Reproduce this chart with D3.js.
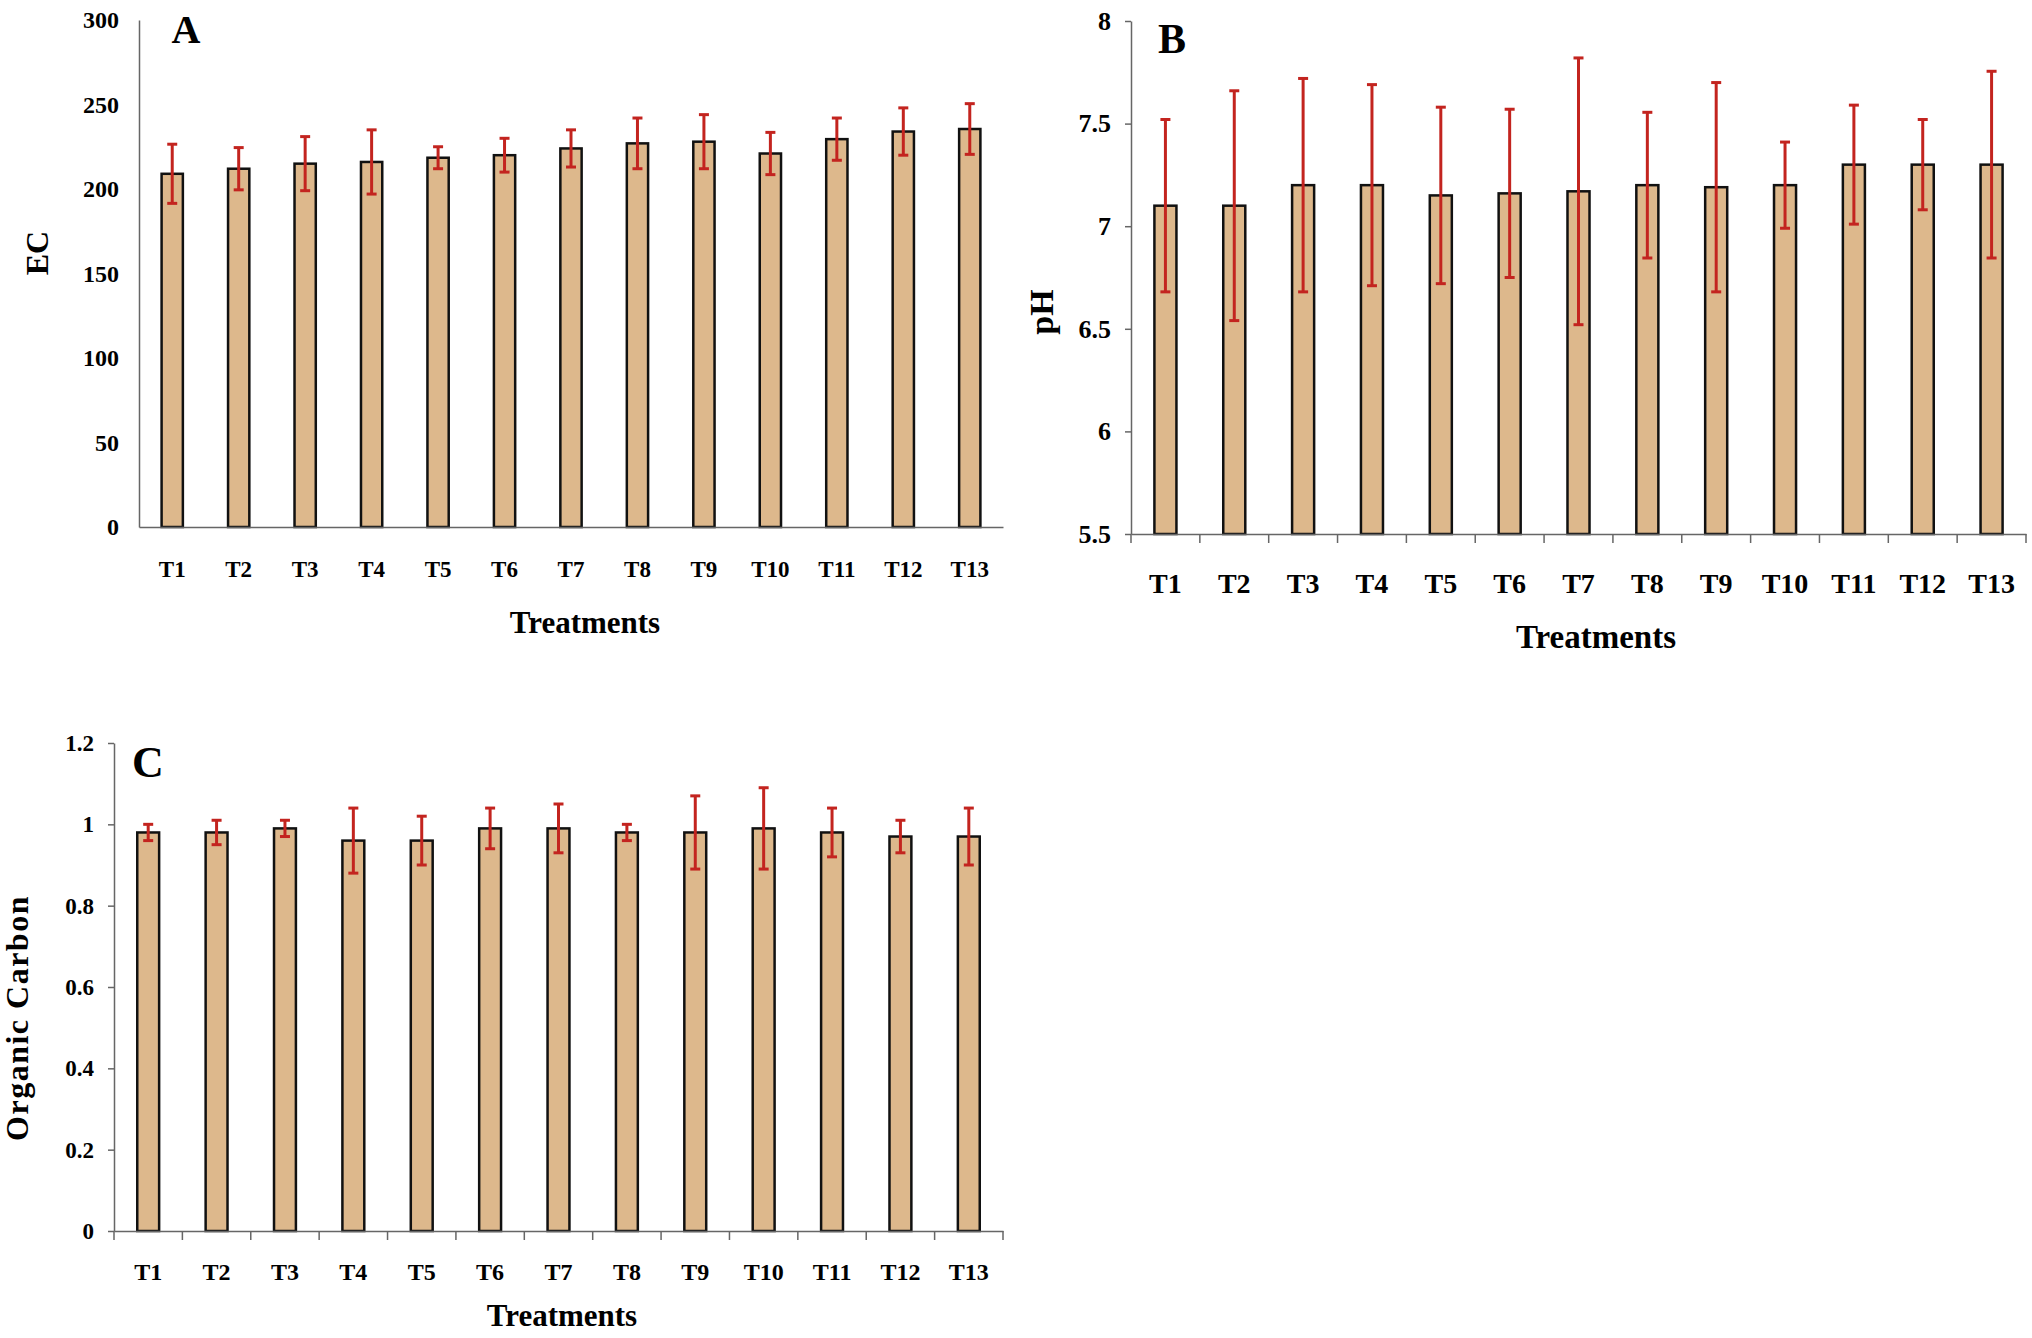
<!DOCTYPE html>
<html>
<head>
<meta charset="utf-8">
<script src="https://cdn.jsdelivr.net/npm/d3@7"></script>
<style>
  body { margin: 0; background: #fff; }
  text { font-family: "Liberation Serif", "Times New Roman", serif; font-weight: bold; fill: #000; }
</style>
</head>
<body>
<script>
let treatments = ["T1", "T2", "T3", "T4", "T5", "T6", "T7", "T8", "T9", "T10", "T11", "T12", "T13"];

// A - EC
let ecMean = [209, 212, 215, 216, 218.5, 220, 224, 227, 228, 221, 229.5, 234, 235.5];
let ecErr = [17.5, 12.5, 16, 19, 6.5, 10, 11, 15, 16, 12.5, 12.5, 14, 15];
let ecTicks = [0, 50, 100, 150, 200, 250, 300];

// B - pH
let phMean = [7.1, 7.1, 7.2, 7.2, 7.15, 7.16, 7.17, 7.2, 7.19, 7.2, 7.3, 7.3, 7.3];
let phErr = [0.42, 0.56, 0.52, 0.49, 0.43, 0.41, 0.65, 0.355, 0.51, 0.21, 0.29, 0.22, 0.455];
let phTicks = [5.5, 6, 6.5, 7, 7.5, 8];

// C - Organic Carbon
let ocMean = [0.98, 0.98, 0.99, 0.96, 0.96, 0.99, 0.99, 0.98, 0.98, 0.99, 0.98, 0.97, 0.97];
let ocErr = [0.02, 0.03, 0.02, 0.08, 0.06, 0.05, 0.06, 0.02, 0.09, 0.1, 0.06, 0.04, 0.07];
let ocTicks = [0, 0.2, 0.4, 0.6, 0.8, 1, 1.2];

let width = 2032,
    height = 1338;

let svg = d3.select("body").append("svg")
    .attr("width", width)
    .attr("height", height);

svg.append("rect").attr("width", width).attr("height", height).attr("fill", "#fff");

let serif = '"Liberation Serif", "Times New Roman", serif';

function drawPanel(p) {
    let x = d3.scaleBand().domain(treatments).range([p.left, p.right]);
    let y = d3.scaleLinear().domain(p.domain).range([p.bottom, p.top]);
    let g = svg.append("g");
    let bw = x.bandwidth() * 0.32;
    let cx = (d, i) => x(treatments[i]) + x.bandwidth() / 2;

    g.selectAll(".bar")
        .data(p.mean)
        .enter().append("rect")
        .attr("class", "bar")
        .attr("x", (d, i) => cx(d, i) - bw / 2)
        .attr("y", d => y(d))
        .attr("width", bw)
        .attr("height", d => y(p.domain[0]) - y(d))
        .attr("fill", "#DDB88C")
        .attr("stroke", "#111")
        .attr("stroke-width", 2.5);

    // y axis
    let yAxis = g.append("g")
        .attr("transform", "translate(" + p.left + ",0)")
        .call(d3.axisLeft(y).tickValues(p.ticks).tickFormat(d3.format(""))
            .tickSize(p.ticked ? 6 : 0).tickSizeOuter(0).tickPadding(p.ticked ? 14 : 20));
    yAxis.attr("font-family", serif).attr("font-size", p.yFont).attr("font-weight", "bold");
    yAxis.select(".domain").attr("stroke", "#666").attr("stroke-width", 1.5);
    yAxis.selectAll(".tick line").attr("stroke", "#666").attr("stroke-width", 1.5);

    // x axis
    let xAxis = g.append("g")
        .attr("transform", "translate(0," + p.bottom + ")")
        .call(d3.axisBottom(x).tickSize(0).tickSizeOuter(0).tickPadding(p.xPad));
    xAxis.attr("font-family", serif).attr("font-size", p.xFont).attr("font-weight", "bold");
    xAxis.select(".domain").attr("stroke", "#666").attr("stroke-width", 1.5);

    if (p.ticked) {
        let edges = treatments.map(t => x(t)).concat([p.right]);
        g.selectAll(".edge")
            .data(edges)
            .enter().append("line")
            .attr("x1", d => d).attr("x2", d => d)
            .attr("y1", p.bottom).attr("y2", p.bottom + 9)
            .attr("stroke", "#666")
            .attr("stroke-width", 1.5);
    }

    // error bars
    let eg = g.append("g").attr("stroke", "#C3241F").attr("stroke-width", 3);
    eg.selectAll(".err")
        .data(p.mean)
        .enter().append("line")
        .attr("x1", cx).attr("x2", cx)
        .attr("y1", (d, i) => y(d - p.err[i]))
        .attr("y2", (d, i) => y(d + p.err[i]));
    eg.selectAll(".capT")
        .data(p.mean)
        .enter().append("line")
        .attr("x1", (d, i) => cx(d, i) - 5).attr("x2", (d, i) => cx(d, i) + 5)
        .attr("y1", (d, i) => y(d + p.err[i]))
        .attr("y2", (d, i) => y(d + p.err[i]));
    eg.selectAll(".capB")
        .data(p.mean)
        .enter().append("line")
        .attr("x1", (d, i) => cx(d, i) - 5).attr("x2", (d, i) => cx(d, i) + 5)
        .attr("y1", (d, i) => y(d - p.err[i]))
        .attr("y2", (d, i) => y(d - p.err[i]));

    // titles
    g.append("text")
        .attr("x", p.letter[0]).attr("y", p.letter[1])
        .attr("text-anchor", "middle")
        .attr("font-size", p.letter[2])
        .text(p.name);

    g.append("text")
        .attr("x", p.xTitle[0]).attr("y", p.xTitle[1])
        .attr("text-anchor", "middle")
        .attr("font-size", p.xTitle[2])
        .text("Treatments");

    g.append("text")
        .attr("transform", "translate(" + p.yTitle[0] + "," + p.yTitle[1] + ") rotate(-90)")
        .attr("text-anchor", "middle")
        .attr("font-size", p.yTitle[2])
        .attr("letter-spacing", p.yTitle[3] || 0)
        .text(p.yLabel);
}

drawPanel({
    name: "A", yLabel: "EC", mean: ecMean, err: ecErr, ticks: ecTicks,
    domain: [0, 300], left: 139, right: 1003, top: 20, bottom: 527,
    ticked: false, yFont: 24, xFont: 23, xPad: 34,
    letter: [186, 43, 40], xTitle: [585, 633, 31], yTitle: [48, 253, 32]
});

drawPanel({
    name: "B", yLabel: "pH", mean: phMean, err: phErr, ticks: phTicks,
    domain: [5.5, 8], left: 1131, right: 2026, top: 21, bottom: 534,
    ticked: true, yFont: 26, xFont: 28, xPad: 39,
    letter: [1172, 53, 42], xTitle: [1596, 648, 33], yTitle: [1053, 312, 34]
});

drawPanel({
    name: "C", yLabel: "Organic Carbon", mean: ocMean, err: ocErr, ticks: ocTicks,
    domain: [0, 1.2], left: 114, right: 1003, top: 743, bottom: 1231,
    ticked: true, yFont: 23, xFont: 24, xPad: 32,
    letter: [148, 777, 44], xTitle: [562, 1326, 31], yTitle: [28, 1018, 32, 1.5]
});
</script>
</body>
</html>
